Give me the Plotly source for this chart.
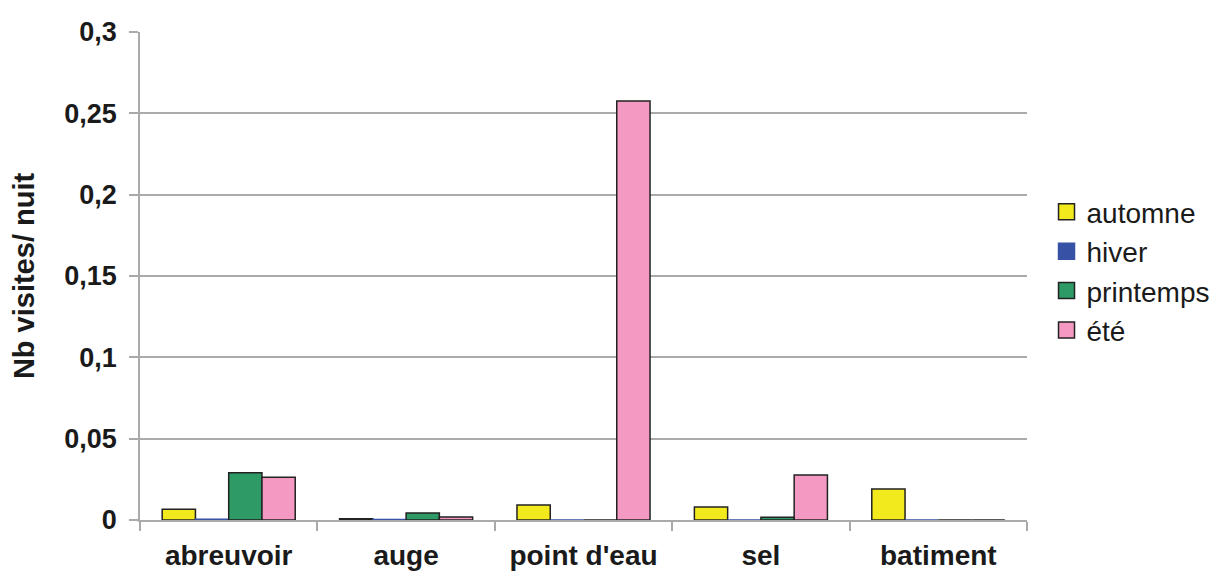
import plotly.graph_objects as go

categories = ["abreuvoir", "auge", "point d'eau", "sel", "batiment"]
automne = [0.0066, 0.0008, 0.0092, 0.0080, 0.0190]
hiver = [0.0005, 0.0003, 0.0, 0.0, 0.0]
printemps = [0.0290, 0.0043, 0.0, 0.0017, 0.0]
ete = [0.0263, 0.0018, 0.2576, 0.0277, 0.0]

series = [
    ("automne", automne, "#F2EA1C", "#222222"),
    ("hiver", hiver, "#3752A4", "#3752A4"),
    ("printemps", printemps, "#2E9A66", "#222222"),
    ("été", ete, "#F49AC2", "#222222"),
]

FONT = "Liberation Sans, Arial"
TXT = "#1a1a1a"

fig = go.Figure()
for name, vals, col, lc in series:
    fig.add_trace(go.Bar(x=categories, y=vals, name=name, showlegend=False,
                         marker=dict(color=col, line=dict(color=lc, width=1.5))))
# legend entries with larger square symbols
for name, vals, col, lc in series:
    fig.add_trace(go.Scatter(x=[None], y=[None], mode="markers", name=name,
                             marker=dict(symbol="square", size=17, color=col,
                                         line=dict(color=lc, width=1.5))))

fig.update_layout(
    width=1210, height=575,
    paper_bgcolor="white", plot_bgcolor="white",
    margin=dict(l=132, r=191, t=24, b=63, autoexpand=False),
    barmode="group", bargap=0.25, bargroupgap=0,
    separators=", ",
    font=dict(family=FONT, color=TXT),
    legend=dict(x=1.022, y=0.51, xanchor="left", yanchor="middle",
                font=dict(size=28, family=FONT, color=TXT),
                itemwidth=30, tracegroupgap=0),
    showlegend=True,
)
fig.update_xaxes(
    type="category", tickson="boundaries", ticks="outside", ticklen=9,
    tickcolor="#aaaaaa", tickwidth=1.5,
    showline=True, linecolor="#aaaaaa", linewidth=1.5,
    tickfont=dict(size=28, family=FONT, color=TXT, weight="bold"),
    ticklabelstandoff=10, automargin=False,
    showgrid=False,
)
fig.update_yaxes(
    range=[0, 0.3], dtick=0.05, ticks="outside", ticklen=9,
    tickcolor="#aaaaaa", tickwidth=1.5,
    showline=True, linecolor="#aaaaaa", linewidth=1.5,
    showgrid=True, gridcolor="#aaaaaa", gridwidth=1.5,
    zeroline=False, automargin=False,
    ticklabelstandoff=7,
    tickfont=dict(size=27, family=FONT, color=TXT, weight="bold"),
    title=dict(text="Nb visites/ nuit", standoff=21,
               font=dict(size=29, family=FONT, color=TXT, weight="bold")),
)

fig.write_html("out.html")
